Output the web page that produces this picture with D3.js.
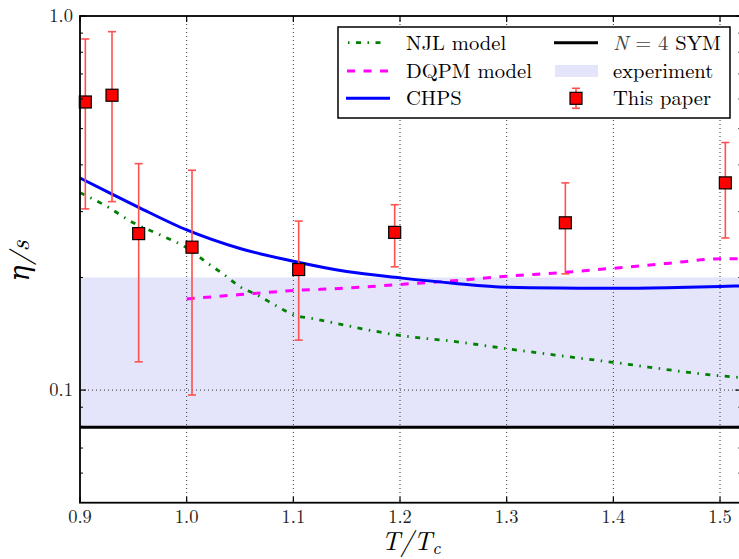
<!DOCTYPE html>
<html><head><meta charset="utf-8">
<script src="https://cdn.jsdelivr.net/npm/d3@7/dist/d3.min.js"></script>
</head>
<body style="margin:0;background:#fff">
<svg id="chart" width="739" height="559" style="display:block"></svg>
<script>
// ---- data ----
const njlT   = [0.9, 0.925, 0.95, 0.975, 1.0, 1.02, 1.035, 1.05, 1.067, 1.084, 1.1, 1.12, 1.15, 1.2, 1.25, 1.3, 1.4, 1.5, 1.52];
const njlEta = [0.337, 0.31, 0.28, 0.26, 0.240, 0.218, 0.2036, 0.189, 0.179, 0.168, 0.159, 0.155, 0.1487, 0.140, 0.135, 0.129, 0.1186, 0.1092, 0.108];
const dqpmT   = [1.0, 1.05, 1.1, 1.15, 1.2, 1.25, 1.3, 1.35, 1.4, 1.45, 1.5, 1.52];
const dqpmEta = [0.1753, 0.180, 0.1845, 0.1873, 0.1916, 0.196, 0.2015, 0.206, 0.2117, 0.218, 0.2243, 0.2245];
const chpsT   = [0.9, 0.93, 0.955, 1.0, 1.05, 1.1, 1.15, 1.2, 1.25, 1.3, 1.35, 1.4, 1.45, 1.5, 1.52];
const chpsEta = [0.369, 0.334, 0.308, 0.268, 0.239, 0.221, 0.2074, 0.1995, 0.193, 0.1883, 0.1874, 0.1872, 0.1878, 0.1892, 0.190];
const symEta = 1 / (4 * Math.PI);
const expBand = [0.0796, 0.2];
const paperT   = [0.905, 0.93, 0.955, 1.005, 1.105, 1.195, 1.355, 1.505];
const paperEta = [0.589, 0.614, 0.262, 0.241, 0.210, 0.264, 0.280, 0.358];
const paperLo  = [0.305, 0.319, 0.119, 0.097, 0.136, 0.2136, 0.2045, 0.255];
const paperHi  = [0.868, 0.908, 0.403, 0.387, 0.283, 0.313, 0.358, 0.459];
const xTicks = [0.9, 1.0, 1.1, 1.2, 1.3, 1.4, 1.5];
const yMajor = [0.1, 1.0];
const yMinor = [0.06, 0.07, 0.08, 0.09, 0.2, 0.3, 0.4, 0.5, 0.6, 0.7, 0.8, 0.9];
const legendLeft  = ["NJL model", "DQPM model", "CHPS"];
const legendRight = ["N = 4 SYM", "experiment", "This paper"];

// ---- layout ----
const FONT = "'Latin Modern Roman', 'DejaVu Serif', serif";
const L = 80, T = 16, B = 502.7;
const x = d3.scaleLinear().domain([0.9, 1.52]).range([L, L + 0.62 * 1066.7]);
const y = d3.scaleLog().domain([0.05, 1.0]).range([B, T]);
const R = x.range()[1];
const svg = d3.select("#chart");
const g = svg.append("g").attr("font-family", FONT);

// band
g.append("rect").attr("x", L).attr("width", R - L)
  .attr("y", y(expBand[1])).attr("height", y(expBand[0]) - y(expBand[1]))
  .attr("fill", "rgb(228,228,251)");

// grid
xTicks.slice(1).forEach(t => g.append("line").attr("x1", x(t)).attr("x2", x(t)).attr("y1", T).attr("y2", B)
  .attr("stroke", "#333").attr("stroke-width", 1).attr("stroke-dasharray", "1,3"));
g.append("line").attr("x1", L).attr("x2", R).attr("y1", y(0.1)).attr("y2", y(0.1))
  .attr("stroke", "#333").attr("stroke-width", 1).attr("stroke-dasharray", "1,3");

// SYM line
g.append("line").attr("x1", L).attr("x2", R).attr("y1", y(symEta)).attr("y2", y(symEta))
  .attr("stroke", "#000").attr("stroke-width", 3);

const line = d3.line().x(d => x(d[0])).y(d => y(d[1])).curve(d3.curveMonotoneX);
const zip = (a, b) => a.map((v, i) => [v, b[i]]);

g.append("path").attr("d", line(zip(dqpmT, dqpmEta))).attr("fill", "none")
  .attr("stroke", "#ff00ff").attr("stroke-width", 3).attr("stroke-dasharray", "8,8.5");
g.append("path").attr("d", line(zip(njlT, njlEta))).attr("fill", "none")
  .attr("stroke", "#008000").attr("stroke-width", 2.8).attr("stroke-dasharray", "5,6.5,1.5,6.5");
g.append("path").attr("d", line(zip(chpsT, chpsEta))).attr("fill", "none")
  .attr("stroke", "#0000ff").attr("stroke-width", 3);

// error bars
const errColor = "#ff5050";
paperT.forEach((t, i) => {
  const cx = x(t);
  g.append("line").attr("x1", cx).attr("x2", cx).attr("y1", y(paperLo[i])).attr("y2", y(paperHi[i]))
    .attr("stroke", errColor).attr("stroke-width", 1.6);
  [paperLo[i], paperHi[i]].forEach(v => g.append("line").attr("x1", cx - 4).attr("x2", cx + 4)
    .attr("y1", y(v)).attr("y2", y(v)).attr("stroke", errColor).attr("stroke-width", 1.6));
});
paperT.forEach((t, i) => {
  g.append("rect").attr("x", x(t) - 6).attr("y", y(paperEta[i]) - 6).attr("width", 12).attr("height", 12)
    .attr("fill", "#ff0000").attr("stroke", "#000").attr("stroke-width", 1.2);
});

// frame
g.append("rect").attr("x", L).attr("y", T).attr("width", R - L).attr("height", B - T)
  .attr("fill", "none").attr("stroke", "#000").attr("stroke-width", 1.8);

// ticks
xTicks.forEach(t => {
  g.append("line").attr("x1", x(t)).attr("x2", x(t)).attr("y1", B).attr("y2", B - 6).attr("stroke", "#000").attr("stroke-width", 1.2);
  g.append("line").attr("x1", x(t)).attr("x2", x(t)).attr("y1", T).attr("y2", T + 6).attr("stroke", "#000").attr("stroke-width", 1.2);
  g.append("text").attr("x", x(t)).attr("y", B + 20.5).attr("text-anchor", "middle")
    .attr("font-size", 18.5).attr("fill", "#222").text(d3.format(".1f")(t));
});
yMajor.forEach(v => {
  g.append("line").attr("x1", L).attr("x2", L + 6).attr("y1", y(v)).attr("y2", y(v)).attr("stroke", "#000").attr("stroke-width", 1.2);
  g.append("line").attr("x1", R).attr("x2", R - 6).attr("y1", y(v)).attr("y2", y(v)).attr("stroke", "#000").attr("stroke-width", 1.2);
  g.append("text").attr("x", L - 7).attr("y", y(v) + 6).attr("text-anchor", "end")
    .attr("font-size", 18.5).attr("fill", "#222").text(d3.format(".1f")(v));
});
yMinor.forEach(v => {
  g.append("line").attr("x1", L).attr("x2", L + 3).attr("y1", y(v)).attr("y2", y(v)).attr("stroke", "#000").attr("stroke-width", 1);
  g.append("line").attr("x1", R).attr("x2", R - 3).attr("y1", y(v)).attr("y2", y(v)).attr("stroke", "#000").attr("stroke-width", 1);
});

// axis labels
const xl = g.append("text").attr("x", 411).attr("y", 550).attr("text-anchor", "middle")
  .attr("font-size", 26).attr("font-style", "italic");
xl.append("tspan").text("T/T");
xl.append("tspan").attr("font-size", 18).attr("dy", 3.5).text("c");
g.append("text").attr("transform", "translate(29,261) rotate(-90)").attr("text-anchor", "middle")
  .attr("font-size", 27).attr("font-style", "italic").text("η/s");

// legend
const lg = g.append("g");
lg.append("rect").attr("x", 338).attr("y", 27).attr("width", 392).attr("height", 91)
  .attr("fill", "#fff").attr("stroke", "#000").attr("stroke-width", 1.5);
const rowY = [42.7, 71, 98.3];
const fs = 20.6;
lg.append("line").attr("x1", 348).attr("x2", 385).attr("y1", rowY[0]).attr("y2", rowY[0])
  .attr("stroke", "#008000").attr("stroke-width", 2.8).attr("stroke-dasharray", "1.5,6.5,5,6.5");
lg.append("line").attr("x1", 347).attr("x2", 390).attr("y1", rowY[1]).attr("y2", rowY[1])
  .attr("stroke", "#ff00ff").attr("stroke-width", 3).attr("stroke-dasharray", "8,8.5");
lg.append("line").attr("x1", 346).attr("x2", 390).attr("y1", rowY[2]).attr("y2", rowY[2])
  .attr("stroke", "#0000ff").attr("stroke-width", 3);
legendLeft.forEach((s, i) => lg.append("text").attr("x", 406).attr("y", rowY[i] + 7).attr("font-size", fs).text(s));

lg.append("line").attr("x1", 554).attr("x2", 598).attr("y1", rowY[0]).attr("y2", rowY[0])
  .attr("stroke", "#000").attr("stroke-width", 3);
lg.append("rect").attr("x", 555).attr("y", rowY[1] - 6).attr("width", 43).attr("height", 12)
  .attr("fill", "rgb(228,228,251)");
lg.append("line").attr("x1", 576).attr("x2", 576).attr("y1", rowY[2] - 10).attr("y2", rowY[2] + 10)
  .attr("stroke", errColor).attr("stroke-width", 1.6);
[-10, 10].forEach(d => lg.append("line").attr("x1", 572).attr("x2", 580).attr("y1", rowY[2] + d).attr("y2", rowY[2] + d)
  .attr("stroke", errColor).attr("stroke-width", 1.6));
lg.append("rect").attr("x", 570).attr("y", rowY[2] - 6).attr("width", 12).attr("height", 12)
  .attr("fill", "#ff0000").attr("stroke", "#000").attr("stroke-width", 1.2);

const parts = legendRight[0].split(" ");
const t0 = lg.append("text").attr("x", 613).attr("y", rowY[0] + 7).attr("font-size", fs);
t0.append("tspan").attr("font-style", "italic").attr("fill", "#444").text(parts[0]);
t0.append("tspan").attr("fill", "#444").text(" " + parts[1] + " " + parts[2] + " ");
t0.append("tspan").text(parts[3]);
legendRight.slice(1).forEach((s, i) => lg.append("text").attr("x", 613).attr("y", rowY[i + 1] + 7).attr("font-size", fs).text(s));
</script>
</body></html>
